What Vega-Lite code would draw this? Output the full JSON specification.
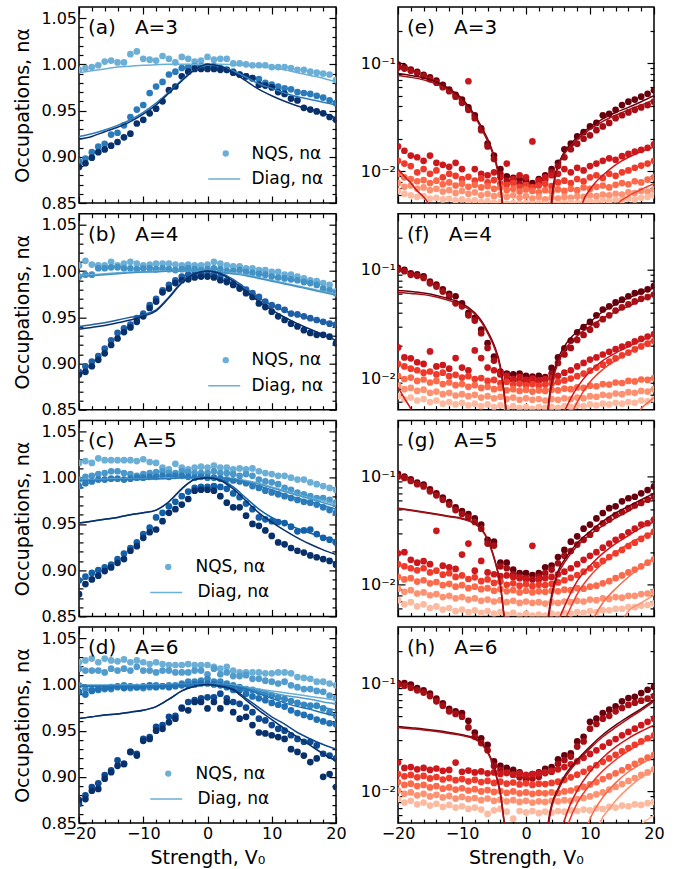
{
"$schema": "https://vega.github.io/schema/vega-lite/v6.json",
"background": "white",
"padding": {"left": 13, "top": 5, "right": 5, "bottom": 5},
"columns": 2,
"spacing": {"row": 10.7, "column": 62},
"bounds": "flush",
"resolve": {"scale": {"color": "independent", "fill": "independent", "stroke": "independent"}, "legend": {"fill": "independent", "stroke": "independent"}},
"config": {
  "view": {"stroke": "black", "strokeWidth": 1.5},
  "axis": {"grid": false, "domain": false, "labelFont": "DejaVu Sans", "labelFontSize": 16, "labelColor": "black", "tickColor": "black", "tickWidth": 1.2, "titleFont": "DejaVu Sans", "titleFontSize": 19, "titleFontWeight": "normal", "titleColor": "black", "labelOverlap": false, "labelFlush": false, "labelBound": false, "labelPadding": 9.5, "titlePadding": 8},
  "legend": {"title": null, "orient": "none", "padding": 0, "labelFontSize": 17, "labelFont": "DejaVu Sans", "labelColor": "black"},
  "text": {"font": "DejaVu Sans"}
},
"concat": [
 {"width": 257, "height": 196, "layer": [
  {"data": {"values": "s,x,y\n1,-20,.994\n1,-19,.996\n1,-18,.997\n1,-17,.999\n1,-16,1.003\n1,-15,1.004\n1,-14,1.002\n1,-13,1.002\n1,-12,1.011\n1,-11,1.014\n1,-10,1.006\n1,-9,1.005\n1,-8,1.004\n1,-7,1.009\n1,-6,1.006\n1,-5,1.002\n1,-4,1.008\n1,-3,1.006\n1,-2,1.003\n1,-1,1.004\n1,0,1.008\n1,1,1.005\n1,2,1.006\n1,3,1.006\n1,4,1.001\n1,5,1.001\n1,6,1\n1,7,.999\n1,8,.999\n1,9,.999\n1,10,.997\n1,11,.997\n1,12,.997\n1,13,.996\n1,14,.994\n1,15,.994\n1,16,.992\n1,17,.991\n1,18,.99\n1,19,.989\n1,20,.983\n2,-20,.895\n2,-19,.898\n2,-18,.905\n2,-17,.911\n2,-16,.914\n2,-15,.924\n2,-14,.926\n2,-13,.934\n2,-12,.943\n2,-11,.951\n2,-10,.956\n2,-9,.969\n2,-8,.976\n2,-7,.981\n2,-6,.989\n2,-5,.992\n2,-4,.996\n2,-3,.997\n2,-2,.998\n2,-1,.998\n2,0,.998\n2,1,.998\n2,2,.996\n2,3,.994\n2,4,.992\n2,5,.989\n2,6,.987\n2,7,.985\n2,8,.984\n2,9,.98\n2,10,.978\n2,11,.976\n2,12,.974\n2,13,.973\n2,14,.97\n2,15,.969\n2,16,.968\n2,17,.966\n2,18,.964\n2,19,.961\n2,20,.958\n3,-20,.889\n3,-19,.893\n3,-18,.899\n3,-17,.905\n3,-16,.908\n3,-15,.912\n3,-14,.916\n3,-13,.921\n3,-12,.925\n3,-11,.936\n3,-10,.94\n3,-9,.947\n3,-8,.952\n3,-7,.96\n3,-6,.972\n3,-5,.976\n3,-4,.987\n3,-3,.992\n3,-2,.995\n3,-1,.995\n3,0,.995\n3,1,.995\n3,2,.994\n3,3,.994\n3,4,.991\n3,5,.989\n3,6,.987\n3,7,.985\n3,8,.978\n3,9,.977\n3,10,.975\n3,11,.97\n3,12,.968\n3,13,.963\n3,14,.961\n3,15,.953\n3,16,.951\n3,17,.949\n3,18,.947\n3,19,.943\n3,20,.94", "format": {"type": "csv", "parse": {"s": "string", "x": "number", "y": "number"}}},
   "mark": {"type": "circle", "size": 45, "opacity": 1, "clip": true},
   "encoding": {
    "x": {"field": "x", "type": "quantitative", "scale": {"domain": [-20, 20], "nice": false, "zero": false}, "axis": {"orient": "bottom", "values": [-20,-18,-16,-14,-12,-10,-8,-6,-4,-2,0,2,4,6,8,10,12,14,16,18,20], "labels": false, "tickSize": {"condition": {"test": "datum.value % 10 === 0", "value": -7}, "value": -4}, "title": null}},
    "y": {"field": "y", "type": "quantitative", "scale": {"domain": [0.85, 1.062], "nice": false, "zero": false}, "axis": {"orient": "left", "values": [0.85,0.86,0.87,0.88,0.89,0.9,0.91,0.92,0.93,0.94,0.95,0.96,0.97,0.98,0.99,1,1.01,1.02,1.03,1.04,1.05], "format": ".2f", "labelExpr": "abs(datum.value*20-round(datum.value*20))<0.001 ? datum.label : ''", "tickSize": {"condition": {"test": "abs(datum.value*20-round(datum.value*20))<0.001", "value": -7}, "value": -4}, "title": "Occupations, nα"}},
    "color": {"field": "s", "type": "nominal", "scale": {"domain": ["1","2","3"], "range": ["#6baed6","#2b7bba","#08306b"]}, "legend": null}}},
  {"data": {"values": "s,x,y\n1,-20,.991\n1,-18,.993\n1,-16,.995\n1,-14,.997\n1,-12,.998\n1,-10,.999\n1,-8,.9995\n1,-6,1\n1,-4,1\n1,-2,1\n1,0,1\n1,2,1\n1,4,.9995\n1,6,.999\n1,8,.998\n1,10,.996\n1,12,.994\n1,14,.991\n1,16,.988\n1,18,.985\n1,20,.981\n2,-20,.922\n2,-18,.925\n2,-16,.929\n2,-14,.934\n2,-12,.94\n2,-10,.948\n2,-8,.958\n2,-6,.97\n2,-4,.983\n2,-2,.994\n2,0,.999\n2,2,.998\n2,4,.993\n2,6,.986\n2,8,.979\n2,10,.974\n2,12,.969\n2,14,.965\n2,16,.962\n2,18,.959\n2,20,.956\n3,-20,.919\n3,-18,.922\n3,-16,.927\n3,-14,.932\n3,-12,.938\n3,-10,.946\n3,-8,.956\n3,-6,.969\n3,-4,.982\n3,-2,.994\n3,0,1\n3,2,.998\n3,4,.991\n3,6,.982\n3,8,.973\n3,10,.966\n3,12,.96\n3,14,.955\n3,16,.951\n3,18,.947\n3,20,.942", "format": {"type": "csv", "parse": {"s": "string", "x": "number", "y": "number"}}},
   "mark": {"type": "line", "strokeWidth": 1.5, "interpolate": "monotone", "clip": true},
   "encoding": {
    "x": {"field": "x", "type": "quantitative", "axis": {"orient": "top", "values": [-20,-18,-16,-14,-12,-10,-8,-6,-4,-2,0,2,4,6,8,10,12,14,16,18,20], "labels": false, "tickSize": {"condition": {"test": "datum.value % 10 === 0", "value": -7}, "value": -4}, "title": null}},
    "y": {"field": "y", "type": "quantitative", "axis": {"orient": "right", "values": [0.85,0.86,0.87,0.88,0.89,0.9,0.91,0.92,0.93,0.94,0.95,0.96,0.97,0.98,0.99,1,1.01,1.02,1.03,1.04,1.05], "labels": false, "tickSize": {"condition": {"test": "abs(datum.value*20-round(datum.value*20))<0.001", "value": -7}, "value": -4}, "title": null}},
    "color": {"field": "s", "type": "nominal", "legend": null}}},
  {"data": {"values": [{"t": "(a)\u00a0\u00a0\u00a0A=3"}]}, "mark": {"type": "text", "align": "left", "baseline": "alphabetic", "dx": 9, "dy": 27, "fontSize": 20, "color": "black"},
   "encoding": {"x": {"datum": -20, "type": "quantitative", "axis": null}, "y": {"datum": 1.062, "type": "quantitative", "axis": null}, "text": {"field": "t"}}},
  {"data": {"values": [{"lab": "NQS, nα"}]}, "mark": {"type": "point", "filled": true, "opacity": 0, "size": 40},
   "encoding": {"fill": {"field": "lab", "type": "nominal", "scale": {"range": ["#6baed6"]}, "legend": {"legendX": 138.25, "legendY": 138, "symbolSize": 40, "symbolOpacity": 1, "symbolStrokeWidth": 0, "labelOffset": 17.25}}}},
  {"data": {"values": [{"lab": "Diag, nα"}]}, "mark": {"type": "line", "opacity": 0},
   "encoding": {"stroke": {"field": "lab", "type": "nominal", "scale": {"range": ["#6baed6"]}, "legend": {"legendX": 128.25, "legendY": 155, "symbolSize": 1024, "symbolStrokeWidth": 1.5, "symbolOpacity": 1, "labelOffset": 10.25}}}}
 ], "resolve": {"axis": {"x": "independent", "y": "independent"}}},
 {"width": 256, "height": 196, "layer": [
  {"data": {"values": "s,x,y\n1,-20,.097\n1,-19,.092\n1,-18,.087\n1,-17,.083\n1,-16,.078\n1,-15,.074\n1,-14,.069\n1,-13,.063\n1,-12,.057\n1,-11,.051\n1,-10,.046\n1,-9,.039\n1,-8,.033\n1,-7,.025\n1,-6,.018\n1,-5,.014\n1,-4,.0105\n1,-3,.009\n1,-2,.0087\n1,-1,.0085\n1,0,.0082\n1,1,.0078\n1,2,.0085\n1,3,.0092\n1,4,.0105\n1,5,.012\n1,6,.016\n1,7,.018\n1,8,.021\n1,9,.023\n1,10,.026\n1,11,.028\n1,12,.033\n1,13,.034\n1,14,.037\n1,15,.041\n1,16,.044\n1,17,.046\n1,18,.049\n1,19,.052\n1,20,.056\n2,-20,.091\n2,-19,.089\n2,-18,.085\n2,-17,.081\n2,-16,.076\n2,-15,.071\n2,-14,.066\n2,-13,.06\n2,-12,.055\n2,-11,.049\n2,-10,.043\n2,-9,.037\n2,-8,.031\n2,-7,.024\n2,-6,.017\n2,-5,.013\n2,-4,.0095\n2,-3,.0082\n2,-2,.008\n2,-1,.0077\n2,0,.0074\n2,1,.0072\n2,2,.0078\n2,3,.0084\n2,4,.0098\n2,5,.0112\n2,6,.0135\n2,7,.016\n2,8,.018\n2,9,.02\n2,10,.0215\n2,11,.024\n2,12,.026\n2,13,.028\n2,14,.031\n2,15,.033\n2,16,.035\n2,17,.037\n2,18,.039\n2,19,.041\n2,20,.044\n3,-20,.017\n3,-19,.0155\n3,-18,.014\n3,-17,.0135\n3,-16,.0125\n3,-15,.014\n3,-14,.012\n3,-13,.0115\n3,-12,.011\n3,-11,.012\n3,-10,.0105\n3,-9,.068\n3,-8,.0105\n3,-7,.0095\n3,-6,.0092\n3,-5,.0098\n3,-4,.0088\n3,-3,.0118\n3,-2,.0085\n3,-1,.0092\n3,0,.0088\n3,1,.0189\n3,2,.0082\n3,3,.0088\n3,4,.0092\n3,5,.0095\n3,6,.0105\n3,7,.0098\n3,8,.0108\n3,9,.0102\n3,10,.0112\n3,11,.0118\n3,12,.0125\n3,13,.0132\n3,14,.0128\n3,15,.0138\n3,16,.0145\n3,17,.0152\n3,18,.0158\n3,19,.0165\n3,20,.0178\n4,-20,.0125\n4,-19,.0118\n4,-18,.0112\n4,-17,.0098\n4,-16,.0105\n4,-15,.0095\n4,-14,.0102\n4,-13,.0088\n4,-12,.0095\n4,-11,.0091\n4,-10,.0085\n4,-9,.0089\n4,-8,.0082\n4,-7,.0086\n4,-6,.0079\n4,-5,.0083\n4,-4,.0077\n4,-3,.0075\n4,-2,.0078\n4,-1,.0072\n4,0,.0075\n4,1,.0071\n4,2,.0074\n4,3,.0077\n4,4,.0073\n4,5,.0079\n4,6,.0082\n4,7,.0078\n4,8,.0085\n4,9,.0081\n4,10,.0088\n4,11,.0092\n4,12,.0087\n4,13,.0095\n4,14,.0091\n4,15,.0098\n4,16,.0102\n4,17,.0108\n4,18,.0113\n4,19,.0118\n4,20,.0125\n5,-20,.0095\n5,-19,.0088\n5,-18,.0085\n5,-17,.0081\n5,-16,.0083\n5,-15,.0078\n5,-14,.0082\n5,-13,.0076\n5,-12,.0079\n5,-11,.0074\n5,-10,.0077\n5,-9,.0072\n5,-8,.0075\n5,-7,.0071\n5,-6,.0073\n5,-5,.0069\n5,-4,.0071\n5,-3,.0067\n5,-2,.0069\n5,-1,.0065\n5,0,.0068\n5,1,.0066\n5,2,.0064\n5,3,.0067\n5,4,.0065\n5,5,.0068\n5,6,.0066\n5,7,.0069\n5,8,.0067\n5,9,.0071\n5,10,.0069\n5,11,.0072\n5,12,.0074\n5,13,.0071\n5,14,.0075\n5,15,.0078\n5,16,.0076\n5,17,.0081\n5,18,.0079\n5,19,.0084\n5,20,.0088\n6,-20,.0078\n6,-19,.0072\n6,-18,.0074\n6,-17,.0069\n6,-16,.0071\n6,-15,.0067\n6,-14,.0069\n6,-13,.0065\n6,-12,.0067\n6,-11,.0063\n6,-10,.0066\n6,-9,.0062\n6,-8,.0064\n6,-7,.006\n6,-6,.0062\n6,-5,.0059\n6,-4,.0061\n6,-3,.0058\n6,-2,.006\n6,-1,.0057\n6,0,.0059\n6,1,.0056\n6,2,.0058\n6,3,.0055\n6,4,.0057\n6,5,.0056\n6,6,.0058\n6,7,.0057\n6,8,.0059\n6,9,.0058\n6,10,.006\n6,11,.0059\n6,12,.0061\n6,13,.006\n6,14,.0062\n6,15,.0061\n6,16,.0064\n6,17,.0063\n6,18,.0066\n6,19,.0065\n6,20,.0068\n7,-20,.0066\n7,-19,.0062\n7,-18,.006\n7,-17,.0058\n7,-16,.0059\n7,-15,.0056\n7,-14,.0057\n7,-13,.0055\n7,-12,.0056\n7,-11,.0054\n7,-10,.0055\n7,-9,.0053\n7,-8,.0054\n7,-7,.0052\n7,-6,.0053\n7,-5,.0051\n7,-4,.0052\n7,-3,.005\n7,-2,.0051\n7,-1,.005\n7,0,.0051\n7,1,.005\n7,2,.0051\n7,3,.005\n7,4,.0051\n7,5,.005\n7,6,.0051\n7,7,.0052\n7,8,.0051\n7,9,.0052\n7,10,.0053\n7,11,.0052\n7,12,.0054\n7,13,.0053\n7,14,.0055\n7,15,.0054\n7,16,.0056\n7,17,.0055\n7,18,.0057\n7,19,.0058\n7,20,.006", "format": {"type": "csv", "parse": {"s": "string", "x": "number", "y": "number"}}},
   "mark": {"type": "circle", "size": 45, "opacity": 1, "clip": true},
   "encoding": {
    "x": {"field": "x", "type": "quantitative", "scale": {"domain": [-20, 20], "nice": false, "zero": false}, "axis": {"orient": "bottom", "values": [-20,-18,-16,-14,-12,-10,-8,-6,-4,-2,0,2,4,6,8,10,12,14,16,18,20], "labels": false, "tickSize": {"condition": {"test": "datum.value % 10 === 0", "value": -7}, "value": -4}, "title": null}},
    "y": {"field": "y", "type": "quantitative", "scale": {"type": "log", "domain": [0.0051, 0.33], "nice": false}, "axis": {"orient": "left", "values": [0.006,0.007,0.008,0.009,0.01,0.02,0.03,0.04,0.05,0.06,0.07,0.08,0.09,0.1,0.2], "labelExpr": "datum.value == 0.1 ? '10⁻¹' : datum.value == 0.01 ? '10⁻²' : ''", "tickSize": {"condition": {"test": "datum.value == 0.1 || datum.value == 0.01", "value": -7}, "value": -4}, "title": null}},
    "color": {"field": "s", "type": "nominal", "scale": {"domain": ["1","2","3","4","5","6","7"], "range": ["#67000d","#a50f15","#cb181d","#ef3b2c","#fb6a4a","#fc9272","#fcbba1"]}, "legend": null}}},
  {"data": {"values": "s,x,y\n1,-20,.08\n1,-18,.077\n1,-16,.073\n1,-14,.067\n1,-12,.058\n1,-10,.047\n1,-8,.033\n1,-7,.026\n1,-6,.02\n1,-5,.014\n1,-4.5,.011\n1,-4,.0075\n1,-3.7,.0052\n1,-3.5,.004\n1,0,.0005\n1,3.8,.004\n1,4,.0055\n1,4.5,.009\n1,5,.0114\n1,6,.0151\n1,8,.0207\n1,10,.0257\n1,12,.0306\n1,14,.035\n1,16,.039\n1,18,.044\n1,20,.05\n2,-20,.077\n2,-18,.074\n2,-16,.07\n2,-14,.064\n2,-12,.056\n2,-10,.045\n2,-8,.032\n2,-7,.025\n2,-6,.019\n2,-5,.0135\n2,-4.5,.0105\n2,-4,.0072\n2,-3.7,.005\n2,-3.5,.0038\n2,0,.0005\n2,3.9,.004\n2,4.1,.0055\n2,4.6,.009\n2,5,.011\n2,6,.0145\n2,8,.0198\n2,10,.0245\n2,12,.029\n2,14,.033\n2,16,.037\n2,18,.041\n2,20,.046\n3,-20,.0105\n3,-19,.009\n3,-18,.0078\n3,-17,.0066\n3,-16,.0058\n3,-15.2,.005\n3,-14.5,.004\n3,0,.0005\n3,8.5,.004\n3,8.8,.005\n3,10,.0068\n3,12,.0092\n3,14,.0115\n3,16,.0135\n3,18,.0152\n3,20,.0168\n4,14,.0045\n4,14.4,.005\n4,16,.0059\n4,18,.0068\n4,20,.0077", "format": {"type": "csv", "parse": {"s": "string", "x": "number", "y": "number"}}},
   "mark": {"type": "line", "strokeWidth": 1.5, "interpolate": "monotone", "clip": true},
   "encoding": {
    "x": {"field": "x", "type": "quantitative", "axis": {"orient": "top", "values": [-20,-18,-16,-14,-12,-10,-8,-6,-4,-2,0,2,4,6,8,10,12,14,16,18,20], "labels": false, "tickSize": {"condition": {"test": "datum.value % 10 === 0", "value": -7}, "value": -4}, "title": null}},
    "y": {"field": "y", "type": "quantitative", "axis": {"orient": "right", "values": [0.006,0.007,0.008,0.009,0.01,0.02,0.03,0.04,0.05,0.06,0.07,0.08,0.09,0.1,0.2], "labels": false, "tickSize": {"condition": {"test": "datum.value == 0.1 || datum.value == 0.01", "value": -7}, "value": -4}, "title": null}},
    "color": {"field": "s", "type": "nominal", "legend": null}}},
  {"data": {"values": [{"t": "(e)\u00a0\u00a0\u00a0A=3"}]}, "mark": {"type": "text", "align": "left", "baseline": "alphabetic", "dx": 9, "dy": 27, "fontSize": 20, "color": "black"},
   "encoding": {"x": {"datum": -20, "type": "quantitative", "axis": null}, "y": {"datum": 0.33, "type": "quantitative", "axis": null}, "text": {"field": "t"}}}
 ], "resolve": {"axis": {"x": "independent", "y": "independent"}}},
 {"width": 257, "height": 196, "layer": [
  {"data": {"values": "s,x,y\n1,-20,1.006\n1,-19,1.011\n1,-18,1.007\n1,-17,1.006\n1,-16,1.006\n1,-15,1.01\n1,-14,1.006\n1,-13,1.008\n1,-12,1.01\n1,-11,1.008\n1,-10,1.006\n1,-9,1.007\n1,-8,1.008\n1,-7,1.008\n1,-6,1.008\n1,-5,1.007\n1,-4,1.006\n1,-3,1.007\n1,-2,1.006\n1,-1,1.006\n1,0,1.007\n1,1,1.01\n1,2,1.008\n1,3,1.006\n1,4,1.005\n1,5,1.005\n1,6,1.003\n1,7,1.003\n1,8,1.001\n1,9,1.001\n1,10,.999\n1,11,.999\n1,12,.996\n1,13,.996\n1,14,.994\n1,15,.992\n1,16,.99\n1,17,.989\n1,18,.987\n1,19,.985\n1,20,.978\n2,-20,.994\n2,-19,.996\n2,-18,.996\n2,-17,1.003\n2,-16,1.003\n2,-15,1.004\n2,-14,1.004\n2,-13,1.003\n2,-12,1.003\n2,-11,1.002\n2,-10,1.003\n2,-9,1.003\n2,-8,1.002\n2,-7,1.003\n2,-6,1.002\n2,-5,1.001\n2,-4,1.002\n2,-3,1.003\n2,-2,1.002\n2,-1,1.001\n2,0,1.002\n2,1,1.003\n2,2,1.002\n2,3,1\n2,4,1\n2,5,1.001\n2,6,.999\n2,7,.998\n2,8,.997\n2,9,.996\n2,10,.994\n2,11,.993\n2,12,.992\n2,13,.991\n2,14,.99\n2,15,.988\n2,16,.987\n2,17,.985\n2,18,.981\n2,19,.979\n2,20,.976\n3,-20,.891\n3,-19,.897\n3,-18,.902\n3,-17,.908\n3,-16,.916\n3,-15,.925\n3,-14,.933\n3,-13,.938\n3,-12,.942\n3,-11,.949\n3,-10,.954\n3,-9,.963\n3,-8,.97\n3,-7,.979\n3,-6,.985\n3,-5,.99\n3,-4,.994\n3,-3,.996\n3,-2,.997\n3,-1,.997\n3,0,.997\n3,1,.996\n3,2,.994\n3,3,.99\n3,4,.987\n3,5,.983\n3,6,.98\n3,7,.976\n3,8,.972\n3,9,.967\n3,10,.963\n3,11,.961\n3,12,.958\n3,13,.954\n3,14,.953\n3,15,.951\n3,16,.949\n3,17,.947\n3,18,.945\n3,19,.943\n3,20,.942\n4,-20,.888\n4,-19,.891\n4,-18,.897\n4,-17,.904\n4,-16,.911\n4,-15,.92\n4,-14,.927\n4,-13,.934\n4,-12,.939\n4,-11,.945\n4,-10,.951\n4,-9,.96\n4,-8,.967\n4,-7,.977\n4,-6,.981\n4,-5,.987\n4,-4,.99\n4,-3,.991\n4,-2,.993\n4,-1,.994\n4,0,.994\n4,1,.993\n4,2,.99\n4,3,.988\n4,4,.985\n4,5,.981\n4,6,.976\n4,7,.972\n4,8,.965\n4,9,.961\n4,10,.956\n4,11,.951\n4,12,.947\n4,13,.943\n4,14,.94\n4,15,.936\n4,16,.933\n4,17,.931\n4,18,.931\n4,19,.929\n4,20,.922", "format": {"type": "csv", "parse": {"s": "string", "x": "number", "y": "number"}}},
   "mark": {"type": "circle", "size": 45, "opacity": 1, "clip": true},
   "encoding": {
    "x": {"field": "x", "type": "quantitative", "scale": {"domain": [-20, 20], "nice": false, "zero": false}, "axis": {"orient": "bottom", "values": [-20,-18,-16,-14,-12,-10,-8,-6,-4,-2,0,2,4,6,8,10,12,14,16,18,20], "labels": false, "tickSize": {"condition": {"test": "datum.value % 10 === 0", "value": -7}, "value": -4}, "title": null}},
    "y": {"field": "y", "type": "quantitative", "scale": {"domain": [0.85, 1.062], "nice": false, "zero": false}, "axis": {"orient": "left", "values": [0.85,0.86,0.87,0.88,0.89,0.9,0.91,0.92,0.93,0.94,0.95,0.96,0.97,0.98,0.99,1,1.01,1.02,1.03,1.04,1.05], "format": ".2f", "labelExpr": "abs(datum.value*20-round(datum.value*20))<0.001 ? datum.label : ''", "tickSize": {"condition": {"test": "abs(datum.value*20-round(datum.value*20))<0.001", "value": -7}, "value": -4}, "title": "Occupations, nα"}},
    "color": {"field": "s", "type": "nominal", "scale": {"domain": ["1","2","3","4"], "range": ["#6baed6","#4292c6","#1f5fa6","#08306b"]}, "legend": null}}},
  {"data": {"values": "s,x,y\n1,-20,.995\n1,-18,.996\n1,-16,.997\n1,-14,.998\n1,-12,.999\n1,-10,.999\n1,-8,1\n1,-6,1\n1,-4,1\n1,-2,1\n1,0,1\n1,2,.999\n1,4,.998\n1,6,.996\n1,8,.993\n1,10,.99\n1,12,.987\n1,14,.984\n1,16,.981\n1,18,.978\n1,20,.975\n2,-20,.994\n2,-18,.995\n2,-16,.996\n2,-14,.997\n2,-12,.998\n2,-10,.999\n2,-8,.999\n2,-6,1\n2,-4,1\n2,-2,1\n2,0,1\n2,2,.999\n2,4,.997\n2,6,.995\n2,8,.992\n2,10,.989\n2,12,.986\n2,14,.983\n2,16,.98\n2,18,.977\n2,20,.974\n3,-20,.94\n3,-18,.942\n3,-16,.944\n3,-14,.947\n3,-12,.95\n3,-10,.953\n3,-8,.958\n3,-6,.972\n3,-4,.988\n3,-2,.997\n3,0,1\n3,2,.998\n3,4,.991\n3,6,.981\n3,8,.971\n3,10,.963\n3,12,.957\n3,14,.952\n3,16,.948\n3,18,.945\n3,20,.943\n4,-20,.937\n4,-18,.939\n4,-16,.941\n4,-14,.944\n4,-12,.947\n4,-10,.951\n4,-8,.957\n4,-6,.971\n4,-4,.987\n4,-2,.997\n4,0,1\n4,2,.997\n4,4,.989\n4,6,.978\n4,8,.967\n4,10,.958\n4,12,.95\n4,14,.943\n4,16,.937\n4,18,.931\n4,20,.925", "format": {"type": "csv", "parse": {"s": "string", "x": "number", "y": "number"}}},
   "mark": {"type": "line", "strokeWidth": 1.5, "interpolate": "monotone", "clip": true},
   "encoding": {
    "x": {"field": "x", "type": "quantitative", "axis": {"orient": "top", "values": [-20,-18,-16,-14,-12,-10,-8,-6,-4,-2,0,2,4,6,8,10,12,14,16,18,20], "labels": false, "tickSize": {"condition": {"test": "datum.value % 10 === 0", "value": -7}, "value": -4}, "title": null}},
    "y": {"field": "y", "type": "quantitative", "axis": {"orient": "right", "values": [0.85,0.86,0.87,0.88,0.89,0.9,0.91,0.92,0.93,0.94,0.95,0.96,0.97,0.98,0.99,1,1.01,1.02,1.03,1.04,1.05], "labels": false, "tickSize": {"condition": {"test": "abs(datum.value*20-round(datum.value*20))<0.001", "value": -7}, "value": -4}, "title": null}},
    "color": {"field": "s", "type": "nominal", "legend": null}}},
  {"data": {"values": [{"t": "(b)\u00a0\u00a0\u00a0A=4"}]}, "mark": {"type": "text", "align": "left", "baseline": "alphabetic", "dx": 9, "dy": 27, "fontSize": 20, "color": "black"},
   "encoding": {"x": {"datum": -20, "type": "quantitative", "axis": null}, "y": {"datum": 1.062, "type": "quantitative", "axis": null}, "text": {"field": "t"}}},
  {"data": {"values": [{"lab": "NQS, nα"}]}, "mark": {"type": "point", "filled": true, "opacity": 0, "size": 40},
   "encoding": {"fill": {"field": "lab", "type": "nominal", "scale": {"range": ["#6baed6"]}, "legend": {"legendX": 138.25, "legendY": 138, "symbolSize": 40, "symbolOpacity": 1, "symbolStrokeWidth": 0, "labelOffset": 17.25}}}},
  {"data": {"values": [{"lab": "Diag, nα"}]}, "mark": {"type": "line", "opacity": 0},
   "encoding": {"stroke": {"field": "lab", "type": "nominal", "scale": {"range": ["#6baed6"]}, "legend": {"legendX": 128.25, "legendY": 155, "symbolSize": 1024, "symbolStrokeWidth": 1.5, "symbolOpacity": 1, "labelOffset": 10.25}}}}
 ], "resolve": {"axis": {"x": "independent", "y": "independent"}}},
 {"width": 256, "height": 196, "layer": [
  {"data": {"values": "s,x,y\n1,-20,.104\n1,-19,.1\n1,-18,.093\n1,-17,.091\n1,-16,.087\n1,-15,.078\n1,-14,.073\n1,-13,.066\n1,-12,.06\n1,-11,.057\n1,-10,.049\n1,-9,.04\n1,-8,.036\n1,-7,.028\n1,-6,.021\n1,-5,.0158\n1,-4,.0115\n1,-3,.011\n1,-2,.0108\n1,-1,.011\n1,0,.0105\n1,1,.0103\n1,2,.0105\n1,3,.0102\n1,4,.0124\n1,5,.0155\n1,6,.0188\n1,7,.0222\n1,8,.0265\n1,9,.0295\n1,10,.033\n1,11,.038\n1,12,.043\n1,13,.046\n1,14,.05\n1,15,.053\n1,16,.057\n1,17,.061\n1,18,.063\n1,19,.066\n1,20,.071\n2,-20,.1\n2,-19,.097\n2,-18,.09\n2,-17,.088\n2,-16,.084\n2,-15,.075\n2,-14,.07\n2,-13,.063\n2,-12,.057\n2,-11,.049\n2,-10,.046\n2,-9,.038\n2,-8,.034\n2,-7,.026\n2,-6,.019\n2,-5,.0145\n2,-4,.0108\n2,-3,.0098\n2,-2,.0096\n2,-1,.0095\n2,0,.0093\n2,1,.0092\n2,2,.0095\n2,3,.0097\n2,4,.011\n2,5,.0138\n2,6,.0165\n2,7,.019\n2,8,.0225\n2,9,.025\n2,10,.028\n2,11,.031\n2,12,.035\n2,13,.038\n2,14,.042\n2,15,.045\n2,16,.048\n2,17,.051\n2,18,.054\n2,19,.056\n2,20,.059\n3,-20,.0192\n3,-19,.0155\n3,-18,.0152\n3,-17,.014\n3,-16,.0135\n3,-15,.0176\n3,-14,.0128\n3,-13,.0132\n3,-12,.0122\n3,-11,.0153\n3,-10,.0125\n3,-9,.0118\n3,-8,.018\n3,-7,.0153\n3,-6,.0125\n3,-5,.0118\n3,-4,.0112\n3,-3,.0105\n3,-2,.0098\n3,-1,.0102\n3,0,.0096\n3,1,.0099\n3,2,.0095\n3,3,.0098\n3,4,.01\n3,5,.0105\n3,6,.0112\n3,7,.0118\n3,8,.0128\n3,9,.0138\n3,10,.0148\n3,11,.0155\n3,12,.0165\n3,13,.0175\n3,14,.0185\n3,15,.0195\n3,16,.0205\n3,17,.0218\n3,18,.023\n3,19,.0242\n3,20,.0255\n4,-20,.0135\n4,-19,.0128\n4,-18,.0122\n4,-17,.0118\n4,-16,.0112\n4,-15,.0115\n4,-14,.0108\n4,-13,.0112\n4,-12,.0104\n4,-11,.0107\n4,-10,.0101\n4,-9,.0104\n4,-8,.0098\n4,-7,.01\n4,-6,.0094\n4,-5,.0096\n4,-4,.009\n4,-3,.0092\n4,-2,.0087\n4,-1,.0089\n4,0,.0086\n4,1,.0088\n4,2,.0085\n4,3,.0087\n4,4,.0089\n4,5,.0092\n4,6,.0095\n4,7,.0099\n4,8,.0104\n4,9,.011\n4,10,.0117\n4,11,.0125\n4,12,.0133\n4,13,.0142\n4,14,.0152\n4,15,.0162\n4,16,.0172\n4,17,.0184\n4,18,.0196\n4,19,.0208\n4,20,.022\n5,-20,.0105\n5,-19,.0098\n5,-18,.0101\n5,-17,.0094\n5,-16,.0097\n5,-15,.0091\n5,-14,.0094\n5,-13,.0088\n5,-12,.0091\n5,-11,.0086\n5,-10,.0088\n5,-9,.0083\n5,-8,.0086\n5,-7,.0081\n5,-6,.0083\n5,-5,.0079\n5,-4,.0081\n5,-3,.0077\n5,-2,.0079\n5,-1,.0076\n5,0,.0078\n5,1,.0075\n5,2,.0077\n5,3,.0076\n5,4,.0078\n5,5,.0077\n5,6,.008\n5,7,.0079\n5,8,.0082\n5,9,.0081\n5,10,.0085\n5,11,.0084\n5,12,.0088\n5,13,.0087\n5,14,.0091\n5,15,.009\n5,16,.0094\n5,17,.0093\n5,18,.0097\n5,19,.0096\n5,20,.01\n6,-20,.0085\n6,-19,.0079\n6,-18,.0081\n6,-17,.0076\n6,-16,.0078\n6,-15,.0073\n6,-14,.0075\n6,-13,.0071\n6,-12,.0073\n6,-11,.0069\n6,-10,.0071\n6,-9,.0068\n6,-8,.007\n6,-7,.0066\n6,-6,.0068\n6,-5,.0065\n6,-4,.0067\n6,-3,.0064\n6,-2,.0066\n6,-1,.0063\n6,0,.0065\n6,1,.0063\n6,2,.0064\n6,3,.0062\n6,4,.0064\n6,5,.0063\n6,6,.0065\n6,7,.0064\n6,8,.0066\n6,9,.0065\n6,10,.0068\n6,11,.0067\n6,12,.007\n6,13,.0069\n6,14,.0072\n6,15,.0071\n6,16,.0074\n6,17,.0073\n6,18,.0076\n6,19,.0075\n6,20,.0079\n7,-20,.0068\n7,-19,.0064\n7,-18,.0066\n7,-17,.0062\n7,-16,.0064\n7,-15,.006\n7,-14,.0062\n7,-13,.0058\n7,-12,.006\n7,-11,.0057\n7,-10,.0059\n7,-9,.0056\n7,-8,.0058\n7,-7,.0055\n7,-6,.0057\n7,-5,.0054\n7,-4,.0056\n7,-3,.0053\n7,-2,.0055\n7,-1,.0053\n7,0,.0054\n7,1,.0052\n7,2,.0054\n7,3,.0053\n7,4,.0054\n7,5,.0053\n7,6,.0055\n7,7,.0054\n7,8,.0056\n7,9,.0055\n7,10,.0057\n7,11,.0056\n7,12,.0058\n7,13,.0057\n7,14,.0059\n7,15,.0058\n7,16,.006\n7,17,.0059\n7,18,.0062\n7,19,.0061\n7,20,.0064", "format": {"type": "csv", "parse": {"s": "string", "x": "number", "y": "number"}}},
   "mark": {"type": "circle", "size": 45, "opacity": 1, "clip": true},
   "encoding": {
    "x": {"field": "x", "type": "quantitative", "scale": {"domain": [-20, 20], "nice": false, "zero": false}, "axis": {"orient": "bottom", "values": [-20,-18,-16,-14,-12,-10,-8,-6,-4,-2,0,2,4,6,8,10,12,14,16,18,20], "labels": false, "tickSize": {"condition": {"test": "datum.value % 10 === 0", "value": -7}, "value": -4}, "title": null}},
    "y": {"field": "y", "type": "quantitative", "scale": {"type": "log", "domain": [0.0051, 0.33], "nice": false}, "axis": {"orient": "left", "values": [0.006,0.007,0.008,0.009,0.01,0.02,0.03,0.04,0.05,0.06,0.07,0.08,0.09,0.1,0.2], "labelExpr": "datum.value == 0.1 ? '10⁻¹' : datum.value == 0.01 ? '10⁻²' : ''", "tickSize": {"condition": {"test": "datum.value == 0.1 || datum.value == 0.01", "value": -7}, "value": -4}, "title": null}},
    "color": {"field": "s", "type": "nominal", "scale": {"domain": ["1","2","3","4","5","6","7"], "range": ["#67000d","#a50f15","#cb181d","#ef3b2c","#fb6a4a","#fc9272","#fcbba1"]}, "legend": null}}},
  {"data": {"values": "s,x,y\n1,-20,.0645\n1,-18,.063\n1,-16,.061\n1,-14,.058\n1,-12,.054\n1,-10,.049\n1,-8,.04\n1,-7,.034\n1,-6,.027\n1,-5,.0203\n1,-4,.0128\n1,-3.6,.009\n1,-3.3,.0065\n1,-3,.0045\n1,0,.0005\n1,3.3,.0045\n1,3.6,.0065\n1,4,.009\n1,5,.015\n1,6,.0196\n1,8,.027\n1,10,.033\n1,12,.041\n1,14,.048\n1,16,.055\n1,18,.061\n1,20,.068\n2,-20,.062\n2,-18,.0605\n2,-16,.059\n2,-14,.056\n2,-12,.052\n2,-10,.047\n2,-8,.039\n2,-7,.033\n2,-6,.026\n2,-5,.0195\n2,-4,.0122\n2,-3.6,.0085\n2,-3.3,.006\n2,-3,.0042\n2,0,.0005\n2,3.4,.0045\n2,3.7,.0065\n2,4.1,.009\n2,5,.0138\n2,6,.018\n2,8,.0245\n2,10,.03\n2,12,.0355\n2,14,.041\n2,16,.046\n2,18,.0525\n2,20,.059\n3,-20,.0082\n3,-19,.0065\n3,-18,.0052\n3,-17.5,.0045\n3,0,.0005\n3,5.8,.0045\n3,6.2,.0052\n3,7,.0065\n3,8,.0082\n3,10,.0115\n3,12,.0145\n3,14,.017\n3,16,.0195\n3,18,.0222\n3,20,.025\n4,7.1,.0045\n4,7.5,.0052\n4,8,.006\n4,10,.0092\n4,12,.012\n4,14,.0145\n4,16,.0172\n4,18,.02\n4,20,.0226\n5,17.5,.0046\n5,18,.0052\n5,19,.0059\n5,20,.0066", "format": {"type": "csv", "parse": {"s": "string", "x": "number", "y": "number"}}},
   "mark": {"type": "line", "strokeWidth": 1.5, "interpolate": "monotone", "clip": true},
   "encoding": {
    "x": {"field": "x", "type": "quantitative", "axis": {"orient": "top", "values": [-20,-18,-16,-14,-12,-10,-8,-6,-4,-2,0,2,4,6,8,10,12,14,16,18,20], "labels": false, "tickSize": {"condition": {"test": "datum.value % 10 === 0", "value": -7}, "value": -4}, "title": null}},
    "y": {"field": "y", "type": "quantitative", "axis": {"orient": "right", "values": [0.006,0.007,0.008,0.009,0.01,0.02,0.03,0.04,0.05,0.06,0.07,0.08,0.09,0.1,0.2], "labels": false, "tickSize": {"condition": {"test": "datum.value == 0.1 || datum.value == 0.01", "value": -7}, "value": -4}, "title": null}},
    "color": {"field": "s", "type": "nominal", "legend": null}}},
  {"data": {"values": [{"t": "(f)\u00a0\u00a0\u00a0A=4"}]}, "mark": {"type": "text", "align": "left", "baseline": "alphabetic", "dx": 9, "dy": 27, "fontSize": 20, "color": "black"},
   "encoding": {"x": {"datum": -20, "type": "quantitative", "axis": null}, "y": {"datum": 0.33, "type": "quantitative", "axis": null}, "text": {"field": "t"}}}
 ], "resolve": {"axis": {"x": "independent", "y": "independent"}}},
 {"width": 257, "height": 196, "layer": [
  {"data": {"values": "s,x,y\n1,-20,1.016\n1,-19,1.018\n1,-18,1.016\n1,-17,1.021\n1,-16,1.019\n1,-15,1.019\n1,-14,1.019\n1,-13,1.019\n1,-12,1.019\n1,-11,1.018\n1,-10,1.02\n1,-9,1.017\n1,-8,1.016\n1,-7,1.011\n1,-6,1.009\n1,-5,1.015\n1,-4,1.011\n1,-3,1.009\n1,-2,1.011\n1,-1,1.012\n1,0,1.011\n1,1,1.013\n1,2,1.011\n1,3,1.011\n1,4,1.009\n1,5,1.01\n1,6,1.009\n1,7,1.01\n1,8,1.007\n1,9,1.005\n1,10,1.004\n1,11,1.002\n1,12,1.002\n1,13,1\n1,14,.998\n1,15,.998\n1,16,.995\n1,17,.993\n1,18,.991\n1,19,.989\n1,20,.987\n2,-20,.998\n2,-19,1.001\n2,-18,1.002\n2,-17,1.004\n2,-16,1.005\n2,-15,1.007\n2,-14,1.007\n2,-13,1.005\n2,-12,1.004\n2,-11,1.002\n2,-10,1.004\n2,-9,1.005\n2,-8,1.006\n2,-7,1.007\n2,-6,1.005\n2,-5,1.005\n2,-4,1.007\n2,-3,1.006\n2,-2,1.005\n2,-1,1.005\n2,0,1.005\n2,1,1.007\n2,2,1.005\n2,3,1.005\n2,4,1.004\n2,5,1.002\n2,6,1.004\n2,7,1.002\n2,8,.998\n2,9,.996\n2,10,.995\n2,11,.993\n2,12,.989\n2,13,.987\n2,14,.984\n2,15,.982\n2,16,.98\n2,17,.978\n2,18,.978\n2,19,.976\n2,20,.973\n3,-20,.991\n3,-19,.994\n3,-18,.996\n3,-17,.998\n3,-16,.998\n3,-15,.999\n3,-14,.999\n3,-13,.998\n3,-12,.999\n3,-11,1\n3,-10,1\n3,-9,1.001\n3,-8,1.001\n3,-7,1.002\n3,-6,1.001\n3,-5,1.002\n3,-4,1.002\n3,-3,1.001\n3,-2,1\n3,-1,1.001\n3,0,1\n3,1,1\n3,2,.999\n3,3,.998\n3,4,.997\n3,5,.996\n3,6,.994\n3,7,.991\n3,8,.989\n3,9,.986\n3,10,.984\n3,11,.982\n3,12,.98\n3,13,.978\n3,14,.976\n3,15,.974\n3,16,.973\n3,17,.971\n3,18,.968\n3,19,.965\n3,20,.962\n4,-20,.889\n4,-19,.893\n4,-18,.897\n4,-17,.9\n4,-16,.903\n4,-15,.906\n4,-14,.912\n4,-13,.918\n4,-12,.924\n4,-11,.93\n4,-10,.939\n4,-9,.946\n4,-8,.957\n4,-7,.962\n4,-6,.969\n4,-5,.974\n4,-4,.98\n4,-3,.985\n4,-2,.989\n4,-1,.99\n4,0,.99\n4,1,.991\n4,2,.99\n4,3,.988\n4,4,.983\n4,5,.979\n4,6,.972\n4,7,.966\n4,8,.957\n4,9,.955\n4,10,.953\n4,11,.952\n4,12,.951\n4,13,.947\n4,14,.942\n4,15,.943\n4,16,.944\n4,17,.939\n4,18,.935\n4,19,.933\n4,20,.93\n5,-20,.874\n5,-19,.885\n5,-18,.89\n5,-17,.894\n5,-16,.899\n5,-15,.903\n5,-14,.908\n5,-13,.912\n5,-12,.921\n5,-11,.926\n5,-10,.935\n5,-9,.941\n5,-8,.944\n5,-7,.953\n5,-6,.962\n5,-5,.966\n5,-4,.971\n5,-3,.977\n5,-2,.986\n5,-1,.987\n5,0,.987\n5,1,.986\n5,2,.98\n5,3,.973\n5,4,.968\n5,5,.968\n5,6,.959\n5,7,.95\n5,8,.948\n5,9,.943\n5,10,.937\n5,11,.93\n5,12,.928\n5,13,.924\n5,14,.921\n5,15,.919\n5,16,.916\n5,17,.914\n5,18,.912\n5,19,.91\n5,20,.906", "format": {"type": "csv", "parse": {"s": "string", "x": "number", "y": "number"}}},
   "mark": {"type": "circle", "size": 45, "opacity": 1, "clip": true},
   "encoding": {
    "x": {"field": "x", "type": "quantitative", "scale": {"domain": [-20, 20], "nice": false, "zero": false}, "axis": {"orient": "bottom", "values": [-20,-18,-16,-14,-12,-10,-8,-6,-4,-2,0,2,4,6,8,10,12,14,16,18,20], "labels": false, "tickSize": {"condition": {"test": "datum.value % 10 === 0", "value": -7}, "value": -4}, "title": null}},
    "y": {"field": "y", "type": "quantitative", "scale": {"domain": [0.85, 1.062], "nice": false, "zero": false}, "axis": {"orient": "left", "values": [0.85,0.86,0.87,0.88,0.89,0.9,0.91,0.92,0.93,0.94,0.95,0.96,0.97,0.98,0.99,1,1.01,1.02,1.03,1.04,1.05], "format": ".2f", "labelExpr": "abs(datum.value*20-round(datum.value*20))<0.001 ? datum.label : ''", "tickSize": {"condition": {"test": "abs(datum.value*20-round(datum.value*20))<0.001", "value": -7}, "value": -4}, "title": "Occupations, nα"}},
    "color": {"field": "s", "type": "nominal", "scale": {"domain": ["1","2","3","4","5"], "range": ["#6baed6","#4a98c9","#2b7bba","#1361a9","#08306b"]}, "legend": null}}},
  {"data": {"values": "s,x,y\n1,-20,.998\n1,-18,.998\n1,-16,.998\n1,-14,.999\n1,-12,.999\n1,-10,.999\n1,-8,.999\n1,-6,1\n1,-4,1\n1,-2,1\n1,0,1\n1,2,1\n1,4,.999\n1,6,.997\n1,8,.994\n1,10,.99\n1,12,.986\n1,14,.982\n1,16,.978\n1,18,.975\n1,20,.971\n2,-20,.9975\n2,-18,.9975\n2,-16,.998\n2,-14,.998\n2,-12,.999\n2,-10,.999\n2,-8,.999\n2,-6,.9995\n2,-4,1\n2,-2,1\n2,0,1\n2,2,1\n2,4,.999\n2,6,.996\n2,8,.993\n2,10,.989\n2,12,.985\n2,14,.981\n2,16,.977\n2,18,.973\n2,20,.969\n3,-20,.997\n3,-18,.997\n3,-16,.997\n3,-14,.998\n3,-12,.998\n3,-10,.998\n3,-8,.999\n3,-6,.999\n3,-4,1\n3,-2,1\n3,0,1\n3,2,1\n3,4,.998\n3,6,.995\n3,8,.991\n3,10,.987\n3,12,.982\n3,14,.978\n3,16,.974\n3,18,.97\n3,20,.966\n4,-20,.951\n4,-18,.953\n4,-16,.955\n4,-14,.957\n4,-12,.96\n4,-10,.962\n4,-8,.965\n4,-6,.974\n4,-4,.988\n4,-2,.998\n4,0,1\n4,2,.998\n4,4,.99\n4,6,.978\n4,8,.966\n4,10,.957\n4,12,.951\n4,14,.945\n4,16,.94\n4,18,.936\n4,20,.932\n5,-20,.951\n5,-18,.953\n5,-16,.955\n5,-14,.957\n5,-12,.96\n5,-10,.962\n5,-8,.965\n5,-6,.974\n5,-4,.988\n5,-2,.998\n5,0,1\n5,2,.997\n5,4,.988\n5,6,.975\n5,8,.962\n5,10,.952\n5,12,.943\n5,14,.935\n5,16,.928\n5,18,.922\n5,20,.917", "format": {"type": "csv", "parse": {"s": "string", "x": "number", "y": "number"}}},
   "mark": {"type": "line", "strokeWidth": 1.5, "interpolate": "monotone", "clip": true},
   "encoding": {
    "x": {"field": "x", "type": "quantitative", "axis": {"orient": "top", "values": [-20,-18,-16,-14,-12,-10,-8,-6,-4,-2,0,2,4,6,8,10,12,14,16,18,20], "labels": false, "tickSize": {"condition": {"test": "datum.value % 10 === 0", "value": -7}, "value": -4}, "title": null}},
    "y": {"field": "y", "type": "quantitative", "axis": {"orient": "right", "values": [0.85,0.86,0.87,0.88,0.89,0.9,0.91,0.92,0.93,0.94,0.95,0.96,0.97,0.98,0.99,1,1.01,1.02,1.03,1.04,1.05], "labels": false, "tickSize": {"condition": {"test": "abs(datum.value*20-round(datum.value*20))<0.001", "value": -7}, "value": -4}, "title": null}},
    "color": {"field": "s", "type": "nominal", "legend": null}}},
  {"data": {"values": [{"t": "(c)\u00a0\u00a0\u00a0A=5"}]}, "mark": {"type": "text", "align": "left", "baseline": "alphabetic", "dx": 9, "dy": 27, "fontSize": 20, "color": "black"},
   "encoding": {"x": {"datum": -20, "type": "quantitative", "axis": null}, "y": {"datum": 1.062, "type": "quantitative", "axis": null}, "text": {"field": "t"}}},
  {"data": {"values": [{"lab": "NQS, nα"}]}, "mark": {"type": "point", "filled": true, "opacity": 0, "size": 40},
   "encoding": {"fill": {"field": "lab", "type": "nominal", "scale": {"range": ["#6baed6"]}, "legend": {"legendX": 80.75, "legendY": 138, "symbolSize": 40, "symbolOpacity": 1, "symbolStrokeWidth": 0, "labelOffset": 18.75}}}},
  {"data": {"values": [{"lab": "Diag, nα"}]}, "mark": {"type": "line", "opacity": 0},
   "encoding": {"stroke": {"field": "lab", "type": "nominal", "scale": {"range": ["#6baed6"]}, "legend": {"legendX": 70.25, "legendY": 155, "symbolSize": 1024, "symbolStrokeWidth": 1.5, "symbolOpacity": 1, "labelOffset": 14.25}}}}
 ], "resolve": {"axis": {"x": "independent", "y": "independent"}}},
 {"width": 256, "height": 196, "layer": [
  {"data": {"values": "s,x,y\n1,-20,.106\n1,-19,.1\n1,-18,.094\n1,-17,.088\n1,-16,.084\n1,-15,.076\n1,-14,.07\n1,-13,.064\n1,-12,.058\n1,-11,.052\n1,-10,.048\n1,-9,.045\n1,-8,.041\n1,-7,.036\n1,-6,.026\n1,-5,.025\n1,-4,.016\n1,-3,.016\n1,-2,.0138\n1,-1,.0128\n1,0,.0128\n1,1,.0123\n1,2,.0128\n1,3,.0145\n1,4,.015\n1,5,.018\n1,6,.021\n1,7,.025\n1,8,.028\n1,9,.033\n1,10,.036\n1,11,.041\n1,12,.046\n1,13,.051\n1,14,.053\n1,15,.059\n1,16,.063\n1,17,.065\n1,18,.07\n1,19,.075\n1,20,.081\n2,-20,.1\n2,-19,.097\n2,-18,.091\n2,-17,.085\n2,-16,.081\n2,-15,.073\n2,-14,.067\n2,-13,.061\n2,-12,.055\n2,-11,.049\n2,-10,.045\n2,-9,.042\n2,-8,.038\n2,-7,.033\n2,-6,.024\n2,-5,.023\n2,-4,.0148\n2,-3,.0142\n2,-2,.0125\n2,-1,.0118\n2,0,.0115\n2,1,.0112\n2,2,.0118\n2,3,.0128\n2,4,.0138\n2,5,.0158\n2,6,.0185\n2,7,.0205\n2,8,.0235\n2,9,.026\n2,10,.029\n2,11,.033\n2,12,.037\n2,13,.04\n2,14,.044\n2,15,.047\n2,16,.051\n2,17,.054\n2,18,.057\n2,19,.061\n2,20,.065\n3,-20,.0195\n3,-19,.02\n3,-18,.017\n3,-17,.016\n3,-16,.0165\n3,-15,.0155\n3,-14,.0315\n3,-13,.015\n3,-12,.0145\n3,-11,.014\n3,-10,.019\n3,-9,.024\n3,-8,.0135\n3,-7,.0166\n3,-6,.013\n3,-5,.0125\n3,-4,.012\n3,-3,.0122\n3,-2,.0118\n3,-1,.0115\n3,0,.0112\n3,1,.0229\n3,2,.0112\n3,3,.0115\n3,4,.0118\n3,5,.0125\n3,6,.0132\n3,7,.0142\n3,8,.0155\n3,9,.017\n3,10,.0185\n3,11,.02\n3,12,.022\n3,13,.024\n3,14,.026\n3,15,.028\n3,16,.0305\n3,17,.033\n3,18,.036\n3,19,.037\n3,20,.04\n4,-20,.0155\n4,-19,.0148\n4,-18,.0142\n4,-17,.0136\n4,-16,.0142\n4,-15,.013\n4,-14,.0135\n4,-13,.0124\n4,-12,.0128\n4,-11,.0118\n4,-10,.0122\n4,-9,.0113\n4,-8,.0117\n4,-7,.0108\n4,-6,.0112\n4,-5,.0104\n4,-4,.0107\n4,-3,.01\n4,-2,.0103\n4,-1,.0098\n4,0,.0101\n4,1,.0097\n4,2,.01\n4,3,.0099\n4,4,.0102\n4,5,.0105\n4,6,.011\n4,7,.0116\n4,8,.0123\n4,9,.0132\n4,10,.0142\n4,11,.0153\n4,12,.0166\n4,13,.018\n4,14,.0195\n4,15,.021\n4,16,.0228\n4,17,.0245\n4,18,.0265\n4,19,.0285\n4,20,.031\n5,-20,.0118\n5,-19,.0112\n5,-18,.0115\n5,-17,.0107\n5,-16,.011\n5,-15,.0103\n5,-14,.0106\n5,-13,.0099\n5,-12,.0102\n5,-11,.0096\n5,-10,.0099\n5,-9,.0093\n5,-8,.0096\n5,-7,.0091\n5,-6,.0093\n5,-5,.0088\n5,-4,.0091\n5,-3,.0087\n5,-2,.0089\n5,-1,.0085\n5,0,.0088\n5,1,.0085\n5,2,.0087\n5,3,.0086\n5,4,.0088\n5,5,.0087\n5,6,.009\n5,7,.0089\n5,8,.0093\n5,9,.0092\n5,10,.0096\n5,11,.0098\n5,12,.0103\n5,13,.0108\n5,14,.0115\n5,15,.0122\n5,16,.013\n5,17,.0138\n5,18,.0148\n5,19,.016\n5,20,.0172\n6,-20,.0092\n6,-19,.0086\n6,-18,.0089\n6,-17,.0083\n6,-16,.0085\n6,-15,.008\n6,-14,.0082\n6,-13,.0077\n6,-12,.0079\n6,-11,.0075\n6,-10,.0077\n6,-9,.0073\n6,-8,.0075\n6,-7,.0071\n6,-6,.0073\n6,-5,.007\n6,-4,.0072\n6,-3,.0069\n6,-2,.0071\n6,-1,.0068\n6,0,.007\n6,1,.0068\n6,2,.0069\n6,3,.0067\n6,4,.0069\n6,5,.0068\n6,6,.007\n6,7,.0069\n6,8,.0071\n6,9,.007\n6,10,.0073\n6,11,.0072\n6,12,.0075\n6,13,.0074\n6,14,.0077\n6,15,.0076\n6,16,.0079\n6,17,.0079\n6,18,.0082\n6,19,.0083\n6,20,.0086\n7,-20,.0072\n7,-19,.0066\n7,-18,.0069\n7,-17,.0063\n7,-16,.0066\n7,-15,.0061\n7,-14,.0063\n7,-13,.0059\n7,-12,.0061\n7,-11,.0057\n7,-10,.0059\n7,-9,.0056\n7,-8,.0058\n7,-7,.0055\n7,-6,.0057\n7,-5,.0054\n7,-4,.0056\n7,-3,.0053\n7,-2,.0055\n7,-1,.0052\n7,0,.0054\n7,1,.0052\n7,2,.0053\n7,3,.0052\n7,4,.0054\n7,5,.0053\n7,6,.0055\n7,7,.0054\n7,8,.0056\n7,9,.0055\n7,10,.0057\n7,11,.0056\n7,12,.0058\n7,13,.0058\n7,14,.006\n7,15,.006\n7,16,.0062\n7,17,.0062\n7,18,.0064\n7,19,.0065\n7,20,.0067", "format": {"type": "csv", "parse": {"s": "string", "x": "number", "y": "number"}}},
   "mark": {"type": "circle", "size": 45, "opacity": 1, "clip": true},
   "encoding": {
    "x": {"field": "x", "type": "quantitative", "scale": {"domain": [-20, 20], "nice": false, "zero": false}, "axis": {"orient": "bottom", "values": [-20,-18,-16,-14,-12,-10,-8,-6,-4,-2,0,2,4,6,8,10,12,14,16,18,20], "labels": false, "tickSize": {"condition": {"test": "datum.value % 10 === 0", "value": -7}, "value": -4}, "title": null}},
    "y": {"field": "y", "type": "quantitative", "scale": {"type": "log", "domain": [0.0051, 0.33], "nice": false}, "axis": {"orient": "left", "values": [0.006,0.007,0.008,0.009,0.01,0.02,0.03,0.04,0.05,0.06,0.07,0.08,0.09,0.1,0.2], "labelExpr": "datum.value == 0.1 ? '10⁻¹' : datum.value == 0.01 ? '10⁻²' : ''", "tickSize": {"condition": {"test": "datum.value == 0.1 || datum.value == 0.01", "value": -7}, "value": -4}, "title": null}},
    "color": {"field": "s", "type": "nominal", "scale": {"domain": ["1","2","3","4","5","6","7"], "range": ["#67000d","#a50f15","#cb181d","#ef3b2c","#fb6a4a","#fc9272","#fcbba1"]}, "legend": null}}},
  {"data": {"values": "s,x,y\n1,-20,.051\n1,-18,.049\n1,-16,.047\n1,-14,.045\n1,-12,.043\n1,-10,.041\n1,-8,.037\n1,-7,.033\n1,-6,.0265\n1,-5,.018\n1,-4.5,.014\n1,-4,.01\n1,-3.7,.0072\n1,-3.4,.005\n1,-3.2,.004\n1,0,.0005\n1,3.3,.004\n1,3.5,.0052\n1,4,.008\n1,5,.0133\n1,6,.017\n1,8,.0242\n1,10,.031\n1,12,.0385\n1,14,.046\n1,16,.053\n1,18,.061\n1,20,.07\n2,-20,.0505\n2,-18,.0485\n2,-16,.0465\n2,-14,.0445\n2,-12,.0425\n2,-10,.0405\n2,-8,.0365\n2,-7,.0325\n2,-6,.026\n2,-5,.0176\n2,-4.5,.0137\n2,-4,.0098\n2,-3.7,.007\n2,-3.4,.0049\n2,-3.2,.0039\n2,0,.0005\n2,3.4,.004\n2,3.6,.0052\n2,4.1,.008\n2,5,.0125\n2,6,.016\n2,8,.0228\n2,10,.029\n2,12,.035\n2,14,.0415\n2,16,.048\n2,18,.0565\n2,20,.065\n3,5,.0045\n3,5.4,.0052\n3,6,.0063\n3,8,.0108\n3,10,.015\n3,12,.0195\n3,14,.024\n3,16,.0285\n3,18,.0335\n3,20,.038\n4,6,.0045\n4,6.4,.0052\n4,7,.0062\n4,8,.0082\n4,10,.012\n4,12,.0158\n4,14,.0198\n4,16,.0238\n4,18,.0275\n4,20,.031\n5,10.4,.0046\n5,10.8,.0052\n5,12,.0068\n5,14,.0092\n5,16,.0118\n5,18,.0146\n5,20,.0176\n6,15,.0046\n6,15.5,.0052\n6,16,.0057\n6,18,.0068\n6,20,.008", "format": {"type": "csv", "parse": {"s": "string", "x": "number", "y": "number"}}},
   "mark": {"type": "line", "strokeWidth": 1.5, "interpolate": "monotone", "clip": true},
   "encoding": {
    "x": {"field": "x", "type": "quantitative", "axis": {"orient": "top", "values": [-20,-18,-16,-14,-12,-10,-8,-6,-4,-2,0,2,4,6,8,10,12,14,16,18,20], "labels": false, "tickSize": {"condition": {"test": "datum.value % 10 === 0", "value": -7}, "value": -4}, "title": null}},
    "y": {"field": "y", "type": "quantitative", "axis": {"orient": "right", "values": [0.006,0.007,0.008,0.009,0.01,0.02,0.03,0.04,0.05,0.06,0.07,0.08,0.09,0.1,0.2], "labels": false, "tickSize": {"condition": {"test": "datum.value == 0.1 || datum.value == 0.01", "value": -7}, "value": -4}, "title": null}},
    "color": {"field": "s", "type": "nominal", "legend": null}}},
  {"data": {"values": [{"t": "(g)\u00a0\u00a0\u00a0A=5"}]}, "mark": {"type": "text", "align": "left", "baseline": "alphabetic", "dx": 9, "dy": 27, "fontSize": 20, "color": "black"},
   "encoding": {"x": {"datum": -20, "type": "quantitative", "axis": null}, "y": {"datum": 0.33, "type": "quantitative", "axis": null}, "text": {"field": "t"}}}
 ], "resolve": {"axis": {"x": "independent", "y": "independent"}}},
 {"width": 257, "height": 196, "layer": [
  {"data": {"values": "s,x,y\n1,-20,1.024\n1,-19,1.026\n1,-18,1.028\n1,-17,1.024\n1,-16,1.028\n1,-15,1.026\n1,-14,1.025\n1,-13,1.027\n1,-12,1.024\n1,-11,1.026\n1,-10,1.024\n1,-9,1.022\n1,-8,1.024\n1,-7,1.022\n1,-6,1.021\n1,-5,1.021\n1,-4,1.021\n1,-3,1.022\n1,-2,1.021\n1,-1,1.021\n1,0,1.021\n1,1,1.019\n1,2,1.017\n1,3,1.019\n1,4,1.015\n1,5,1.013\n1,6,1.013\n1,7,1.013\n1,8,1.013\n1,9,1.012\n1,10,1.012\n1,11,1.013\n1,12,1.013\n1,13,1.012\n1,14,1.008\n1,15,1.007\n1,16,1.006\n1,17,1.003\n1,18,1.003\n1,19,1.001\n1,20,.999\n2,-20,1.017\n2,-19,1.015\n2,-18,1.015\n2,-17,1.015\n2,-16,1.013\n2,-15,1.017\n2,-14,1.015\n2,-13,1.017\n2,-12,1.015\n2,-11,1.019\n2,-10,1.015\n2,-9,1.015\n2,-8,1.013\n2,-7,1.015\n2,-6,1.015\n2,-5,1.013\n2,-4,1.013\n2,-3,1.013\n2,-2,1.015\n2,-1,1.015\n2,0,1.011\n2,1,1.017\n2,2,1.011\n2,3,1.013\n2,4,1.009\n2,5,1.009\n2,6,1.01\n2,7,1.006\n2,8,1.006\n2,9,1.004\n2,10,1.003\n2,11,1.001\n2,12,1.003\n2,13,.999\n2,14,.997\n2,15,.995\n2,16,.995\n2,17,.993\n2,18,.992\n2,19,.988\n2,20,.985\n3,-20,.999\n3,-19,.995\n3,-18,.994\n3,-17,.994\n3,-16,.995\n3,-15,.995\n3,-14,.997\n3,-13,.999\n3,-12,.996\n3,-11,.997\n3,-10,.996\n3,-9,.997\n3,-8,.999\n3,-7,.998\n3,-6,.999\n3,-5,.999\n3,-4,1.001\n3,-3,1.003\n3,-2,1.003\n3,-1,1.004\n3,0,1.006\n3,1,1.003\n3,2,1.003\n3,3,1.001\n3,4,.999\n3,5,.997\n3,6,.995\n3,7,.994\n3,8,.992\n3,9,.99\n3,10,.988\n3,11,.986\n3,12,.984\n3,13,.982\n3,14,.98\n3,15,.978\n3,16,.977\n3,17,.977\n3,18,.974\n3,19,.97\n3,20,.966\n4,-20,.992\n4,-19,.989\n4,-18,.993\n4,-17,.995\n4,-16,.996\n4,-15,.997\n4,-14,.998\n4,-13,.996\n4,-12,.998\n4,-11,.997\n4,-10,.998\n4,-9,.999\n4,-8,.997\n4,-7,.998\n4,-6,.997\n4,-5,.998\n4,-4,.999\n4,-3,.999\n4,-2,1\n4,-1,1.001\n4,0,1.001\n4,1,1\n4,2,.999\n4,3,.997\n4,4,.994\n4,5,.994\n4,6,.99\n4,7,.987\n4,8,.985\n4,9,.983\n4,10,.98\n4,11,.978\n4,12,.976\n4,13,.972\n4,14,.969\n4,15,.967\n4,16,.965\n4,17,.962\n4,18,.96\n4,19,.958\n4,20,.957\n5,-20,.871\n5,-19,.88\n5,-18,.889\n5,-17,.893\n5,-16,.902\n5,-15,.907\n5,-14,.918\n5,-13,.914\n5,-12,.927\n5,-11,.925\n5,-10,.941\n5,-9,.943\n5,-8,.954\n5,-7,.956\n5,-6,.965\n5,-5,.966\n5,-4,.975\n5,-3,.981\n5,-2,.983\n5,-1,.985\n5,0,.986\n5,1,.986\n5,2,.99\n5,3,.985\n5,4,.981\n5,5,.979\n5,6,.975\n5,7,.97\n5,8,.963\n5,9,.961\n5,10,.956\n5,11,.952\n5,12,.95\n5,13,.945\n5,14,.941\n5,15,.938\n5,16,.938\n5,17,.934\n5,18,.925\n5,19,.923\n5,20,.92\n6,-20,.875\n6,-19,.876\n6,-18,.885\n6,-17,.887\n6,-16,.898\n6,-15,.905\n6,-14,.912\n6,-13,.914\n6,-12,.927\n6,-11,.923\n6,-10,.939\n6,-9,.941\n6,-8,.95\n6,-7,.952\n6,-6,.959\n6,-5,.963\n6,-4,.974\n6,-3,.972\n6,-2,.981\n6,-1,.981\n6,0,.974\n6,1,.981\n6,2,.974\n6,3,.981\n6,4,.97\n6,5,.963\n6,6,.965\n6,7,.956\n6,8,.948\n6,9,.947\n6,10,.945\n6,11,.943\n6,12,.941\n6,13,.93\n6,14,.927\n6,15,.923\n6,16,.916\n6,17,.92\n6,18,.9\n6,19,.903\n6,20,.889", "format": {"type": "csv", "parse": {"s": "string", "x": "number", "y": "number"}}},
   "mark": {"type": "circle", "size": 45, "opacity": 1, "clip": true},
   "encoding": {
    "x": {"field": "x", "type": "quantitative", "scale": {"domain": [-20, 20], "nice": false, "zero": false}, "axis": {"orient": "bottom", "values": [-20,-18,-16,-14,-12,-10,-8,-6,-4,-2,0,2,4,6,8,10,12,14,16,18,20], "labelExpr": "datum.value % 10 === 0 ? datum.label : ''", "labelPadding": 9, "tickSize": {"condition": {"test": "datum.value % 10 === 0", "value": -7}, "value": -4}, "title": "Strength, V₀", "titlePadding": 4}},
    "y": {"field": "y", "type": "quantitative", "scale": {"domain": [0.85, 1.062], "nice": false, "zero": false}, "axis": {"orient": "left", "values": [0.85,0.86,0.87,0.88,0.89,0.9,0.91,0.92,0.93,0.94,0.95,0.96,0.97,0.98,0.99,1,1.01,1.02,1.03,1.04,1.05], "format": ".2f", "labelExpr": "abs(datum.value*20-round(datum.value*20))<0.001 ? datum.label : ''", "tickSize": {"condition": {"test": "abs(datum.value*20-round(datum.value*20))<0.001", "value": -7}, "value": -4}, "title": "Occupations, nα"}},
    "color": {"field": "s", "type": "nominal", "scale": {"domain": ["1","2","3","4","5","6"], "range": ["#6baed6","#519ccc","#3787c0","#2171b5","#0d4a91","#08306b"]}, "legend": null}}},
  {"data": {"values": "s,x,y\n1,-20,.999\n1,-18,.999\n1,-16,.999\n1,-14,.999\n1,-12,.999\n1,-10,.999\n1,-8,.999\n1,-6,1\n1,-4,1\n1,-2,1\n1,0,1\n1,2,1\n1,4,.999\n1,6,.997\n1,8,.995\n1,10,.993\n1,12,.991\n1,14,.989\n1,16,.987\n1,18,.985\n1,20,.983\n2,-20,.999\n2,-18,.999\n2,-16,.999\n2,-14,.999\n2,-12,.999\n2,-10,.999\n2,-8,.999\n2,-6,1\n2,-4,1\n2,-2,1\n2,0,1\n2,2,1\n2,4,.999\n2,6,.997\n2,8,.994\n2,10,.991\n2,12,.988\n2,14,.986\n2,16,.984\n2,18,.981\n2,20,.979\n3,-20,.998\n3,-18,.998\n3,-16,.998\n3,-14,.998\n3,-12,.998\n3,-10,.998\n3,-8,.999\n3,-6,.999\n3,-4,1\n3,-2,1\n3,0,1\n3,2,1\n3,4,.998\n3,6,.996\n3,8,.992\n3,10,.988\n3,12,.984\n3,14,.98\n3,16,.977\n3,18,.975\n3,20,.972\n4,-20,.998\n4,-18,.998\n4,-16,.998\n4,-14,.998\n4,-12,.998\n4,-10,.998\n4,-8,.998\n4,-6,.999\n4,-4,.999\n4,-2,1\n4,0,1\n4,2,.999\n4,4,.998\n4,6,.995\n4,8,.99\n4,10,.985\n4,12,.98\n4,14,.976\n4,16,.973\n4,18,.969\n4,20,.966\n5,-20,.963\n5,-18,.965\n5,-16,.967\n5,-14,.968\n5,-12,.97\n5,-10,.972\n5,-8,.976\n5,-6,.984\n5,-4,.993\n5,-2,.998\n5,0,1\n5,2,.998\n5,4,.995\n5,6,.985\n5,8,.975\n5,10,.965\n5,12,.957\n5,14,.948\n5,16,.941\n5,18,.935\n5,20,.93\n6,-20,.963\n6,-18,.965\n6,-16,.967\n6,-14,.968\n6,-12,.97\n6,-10,.972\n6,-8,.976\n6,-6,.984\n6,-4,.993\n6,-2,.998\n6,0,1\n6,2,.998\n6,4,.994\n6,6,.983\n6,8,.972\n6,10,.962\n6,12,.952\n6,14,.943\n6,16,.934\n6,18,.925\n6,20,.917", "format": {"type": "csv", "parse": {"s": "string", "x": "number", "y": "number"}}},
   "mark": {"type": "line", "strokeWidth": 1.5, "interpolate": "monotone", "clip": true},
   "encoding": {
    "x": {"field": "x", "type": "quantitative", "axis": {"orient": "top", "values": [-20,-18,-16,-14,-12,-10,-8,-6,-4,-2,0,2,4,6,8,10,12,14,16,18,20], "labels": false, "tickSize": {"condition": {"test": "datum.value % 10 === 0", "value": -7}, "value": -4}, "title": null}},
    "y": {"field": "y", "type": "quantitative", "axis": {"orient": "right", "values": [0.85,0.86,0.87,0.88,0.89,0.9,0.91,0.92,0.93,0.94,0.95,0.96,0.97,0.98,0.99,1,1.01,1.02,1.03,1.04,1.05], "labels": false, "tickSize": {"condition": {"test": "abs(datum.value*20-round(datum.value*20))<0.001", "value": -7}, "value": -4}, "title": null}},
    "color": {"field": "s", "type": "nominal", "legend": null}}},
  {"data": {"values": [{"t": "(d)\u00a0\u00a0\u00a0A=6"}]}, "mark": {"type": "text", "align": "left", "baseline": "alphabetic", "dx": 9, "dy": 27, "fontSize": 20, "color": "black"},
   "encoding": {"x": {"datum": -20, "type": "quantitative", "axis": null}, "y": {"datum": 1.062, "type": "quantitative", "axis": null}, "text": {"field": "t"}}},
  {"data": {"values": [{"lab": "NQS, nα"}]}, "mark": {"type": "point", "filled": true, "opacity": 0, "size": 40},
   "encoding": {"fill": {"field": "lab", "type": "nominal", "scale": {"range": ["#6baed6"]}, "legend": {"legendX": 80.75, "legendY": 138, "symbolSize": 40, "symbolOpacity": 1, "symbolStrokeWidth": 0, "labelOffset": 18.75}}}},
  {"data": {"values": [{"lab": "Diag, nα"}]}, "mark": {"type": "line", "opacity": 0},
   "encoding": {"stroke": {"field": "lab", "type": "nominal", "scale": {"range": ["#6baed6"]}, "legend": {"legendX": 70.25, "legendY": 155, "symbolSize": 1024, "symbolStrokeWidth": 1.5, "symbolOpacity": 1, "labelOffset": 14.25}}}}
 ], "resolve": {"axis": {"x": "independent", "y": "independent"}}},
 {"width": 256, "height": 196, "layer": [
  {"data": {"values": "s,x,y\n1,-20,.1\n1,-19,.1\n1,-18,.097\n1,-17,.09\n1,-16,.086\n1,-15,.08\n1,-14,.072\n1,-13,.065\n1,-12,.058\n1,-11,.055\n1,-10,.053\n1,-9,.045\n1,-8,.035\n1,-7,.031\n1,-6,.027\n1,-5,.019\n1,-4,.0172\n1,-3,.0165\n1,-2,.0158\n1,-1,.015\n1,0,.014\n1,1,.0145\n1,2,.015\n1,3,.0162\n1,4,.0168\n1,5,.0198\n1,6,.0215\n1,7,.0225\n1,8,.029\n1,9,.032\n1,10,.044\n1,11,.047\n1,12,.053\n1,13,.057\n1,14,.061\n1,15,.068\n1,16,.073\n1,17,.075\n1,18,.081\n1,19,.087\n1,20,.093\n2,-20,.097\n2,-19,.095\n2,-18,.091\n2,-17,.086\n2,-16,.082\n2,-15,.076\n2,-14,.068\n2,-13,.062\n2,-12,.055\n2,-11,.052\n2,-10,.049\n2,-9,.039\n2,-8,.032\n2,-7,.028\n2,-6,.024\n2,-5,.0172\n2,-4,.0158\n2,-3,.015\n2,-2,.0143\n2,-1,.0135\n2,0,.0128\n2,1,.0132\n2,2,.0137\n2,3,.0148\n2,4,.0152\n2,5,.018\n2,6,.0195\n2,7,.021\n2,8,.026\n2,9,.029\n2,10,.038\n2,11,.042\n2,12,.047\n2,13,.05\n2,14,.055\n2,15,.059\n2,16,.063\n2,17,.066\n2,18,.069\n2,19,.072\n2,20,.076\n3,-20,.0185\n3,-19,.0165\n3,-18,.0168\n3,-17,.016\n3,-16,.0165\n3,-15,.0158\n3,-14,.0163\n3,-13,.0155\n3,-12,.0158\n3,-11,.0185\n3,-10,.0152\n3,-9,.0156\n3,-8,.015\n3,-7,.0153\n3,-6,.0147\n3,-5,.015\n3,-4,.0145\n3,-3,.0148\n3,-2,.0143\n3,-1,.0146\n3,0,.0142\n3,1,.0145\n3,2,.0147\n3,3,.015\n3,4,.0155\n3,5,.016\n3,6,.0168\n3,7,.0178\n3,8,.019\n3,9,.0205\n3,10,.0222\n3,11,.024\n3,12,.026\n3,13,.0282\n3,14,.0305\n3,15,.033\n3,16,.0355\n3,17,.038\n3,18,.041\n3,19,.044\n3,20,.047\n4,-20,.0145\n4,-19,.0138\n4,-18,.0142\n4,-17,.0135\n4,-16,.0139\n4,-15,.0132\n4,-14,.0136\n4,-13,.0129\n4,-12,.0133\n4,-11,.0127\n4,-10,.013\n4,-9,.0124\n4,-8,.0128\n4,-7,.0122\n4,-6,.0125\n4,-5,.012\n4,-4,.0123\n4,-3,.0118\n4,-2,.0121\n4,-1,.0116\n4,0,.0119\n4,1,.0115\n4,2,.0118\n4,3,.0117\n4,4,.012\n4,5,.0123\n4,6,.0128\n4,7,.0135\n4,8,.0143\n4,9,.0152\n4,10,.0163\n4,11,.0175\n4,12,.0188\n4,13,.0202\n4,14,.0218\n4,15,.0235\n4,16,.0252\n4,17,.027\n4,18,.029\n4,19,.031\n4,20,.033\n5,-20,.0122\n5,-19,.0115\n5,-18,.0118\n5,-17,.0112\n5,-16,.0115\n5,-15,.0109\n5,-14,.0112\n5,-13,.0106\n5,-12,.0109\n5,-11,.0104\n5,-10,.0107\n5,-9,.0102\n5,-8,.0105\n5,-7,.01\n5,-6,.0103\n5,-5,.0099\n5,-4,.0101\n5,-3,.0097\n5,-2,.01\n5,-1,.0096\n5,0,.0098\n5,1,.0095\n5,2,.0097\n5,3,.0096\n5,4,.0098\n5,5,.0097\n5,6,.01\n5,7,.0102\n5,8,.0106\n5,9,.011\n5,10,.0116\n5,11,.0122\n5,12,.013\n5,13,.0138\n5,14,.0147\n5,15,.0157\n5,16,.0168\n5,17,.018\n5,18,.0192\n5,19,.0205\n5,20,.0218\n6,-20,.0102\n6,-19,.0095\n6,-18,.0098\n6,-17,.0092\n6,-16,.0095\n6,-15,.009\n6,-14,.0093\n6,-13,.0088\n6,-12,.0091\n6,-11,.0086\n6,-10,.0089\n6,-9,.0085\n6,-8,.0087\n6,-7,.0083\n6,-6,.0086\n6,-5,.0082\n6,-4,.0084\n6,-3,.0081\n6,-2,.0083\n6,-1,.008\n6,0,.0082\n6,1,.0079\n6,2,.0081\n6,3,.008\n6,4,.0082\n6,5,.0081\n6,6,.0083\n6,7,.0082\n6,8,.0085\n6,9,.0087\n6,10,.009\n6,11,.0094\n6,12,.0098\n6,13,.0104\n6,14,.011\n6,15,.0117\n6,16,.0125\n6,17,.0133\n6,18,.0142\n6,19,.015\n6,20,.016\n7,-20,.0085\n7,-19,.0079\n7,-18,.0082\n7,-17,.0076\n7,-16,.0079\n7,-15,.0074\n7,-14,.0077\n7,-13,.0072\n7,-12,.0075\n7,-11,.0071\n7,-10,.0073\n7,-9,.0069\n7,-8,.0071\n7,-7,.0068\n7,-6,.0062\n7,-5,.0067\n7,-4,.0069\n7,-3,.0065\n7,-2,.0056\n7,-1,.0066\n7,0,.0064\n7,1,.0066\n7,2,.0063\n7,3,.0065\n7,4,.0064\n7,5,.0066\n7,6,.0065\n7,7,.0067\n7,8,.0066\n7,9,.0068\n7,10,.0067\n7,11,.007\n7,12,.0069\n7,13,.0072\n7,14,.0071\n7,15,.0074\n7,16,.0073\n7,17,.0076\n7,18,.0075\n7,19,.0078\n7,20,.008", "format": {"type": "csv", "parse": {"s": "string", "x": "number", "y": "number"}}},
   "mark": {"type": "circle", "size": 45, "opacity": 1, "clip": true},
   "encoding": {
    "x": {"field": "x", "type": "quantitative", "scale": {"domain": [-20, 20], "nice": false, "zero": false}, "axis": {"orient": "bottom", "values": [-20,-18,-16,-14,-12,-10,-8,-6,-4,-2,0,2,4,6,8,10,12,14,16,18,20], "labelExpr": "datum.value % 10 === 0 ? datum.label : ''", "labelPadding": 9, "tickSize": {"condition": {"test": "datum.value % 10 === 0", "value": -7}, "value": -4}, "title": "Strength, V₀", "titlePadding": 4}},
    "y": {"field": "y", "type": "quantitative", "scale": {"type": "log", "domain": [0.0051, 0.33], "nice": false}, "axis": {"orient": "left", "values": [0.006,0.007,0.008,0.009,0.01,0.02,0.03,0.04,0.05,0.06,0.07,0.08,0.09,0.1,0.2], "labelExpr": "datum.value == 0.1 ? '10⁻¹' : datum.value == 0.01 ? '10⁻²' : ''", "tickSize": {"condition": {"test": "datum.value == 0.1 || datum.value == 0.01", "value": -7}, "value": -4}, "title": null}},
    "color": {"field": "s", "type": "nominal", "scale": {"domain": ["1","2","3","4","5","6","7"], "range": ["#67000d","#a50f15","#cb181d","#ef3b2c","#fb6a4a","#fc9272","#fcbba1"]}, "legend": null}}},
  {"data": {"values": "s,x,y\n1,-20,.0398\n1,-18,.0388\n1,-16,.0378\n1,-14,.0365\n1,-12,.035\n1,-10,.0334\n1,-8,.031\n1,-7,.028\n1,-6,.0234\n1,-5,.017\n1,-4.5,.013\n1,-4,.0097\n1,-3.7,.0072\n1,-3.5,.0058\n1,-3.3,.0047\n1,0,.0005\n1,3.4,.0047\n1,3.6,.0058\n1,4,.0075\n1,5,.0106\n1,6,.0138\n1,8,.0196\n1,10,.026\n1,12,.0334\n1,14,.041\n1,16,.049\n1,18,.058\n1,20,.07\n2,-20,.039\n2,-18,.038\n2,-16,.037\n2,-14,.0358\n2,-12,.0343\n2,-10,.0328\n2,-8,.0305\n2,-7,.0276\n2,-6,.023\n2,-5,.0166\n2,-4.5,.0127\n2,-4,.0094\n2,-3.7,.007\n2,-3.5,.0056\n2,-3.3,.0046\n2,0,.0005\n2,3.5,.0047\n2,3.7,.0058\n2,4.1,.0075\n2,5,.0102\n2,6,.0132\n2,8,.0188\n2,10,.025\n2,12,.032\n2,14,.039\n2,16,.047\n2,18,.056\n2,20,.068\n3,5.6,.0046\n3,5.9,.0052\n3,7,.0078\n3,8,.0102\n3,10,.0152\n3,12,.0205\n3,14,.0258\n3,16,.031\n3,18,.036\n3,20,.041\n4,6.4,.0046\n4,6.7,.0052\n4,8,.0078\n4,10,.0115\n4,12,.0155\n4,14,.0196\n4,16,.0237\n4,18,.028\n4,20,.032\n5,9.5,.0046\n5,9.8,.0052\n5,11,.0072\n5,12,.0088\n5,14,.012\n5,16,.0152\n5,18,.018\n5,20,.021\n6,11.3,.0046\n6,11.6,.0052\n6,13,.0069\n6,14,.0082\n6,16,.0108\n6,18,.0134\n6,20,.0159\n7,17.8,.0046\n7,18.2,.0051\n7,19,.0055\n7,20,.006", "format": {"type": "csv", "parse": {"s": "string", "x": "number", "y": "number"}}},
   "mark": {"type": "line", "strokeWidth": 1.5, "interpolate": "monotone", "clip": true},
   "encoding": {
    "x": {"field": "x", "type": "quantitative", "axis": {"orient": "top", "values": [-20,-18,-16,-14,-12,-10,-8,-6,-4,-2,0,2,4,6,8,10,12,14,16,18,20], "labels": false, "tickSize": {"condition": {"test": "datum.value % 10 === 0", "value": -7}, "value": -4}, "title": null}},
    "y": {"field": "y", "type": "quantitative", "axis": {"orient": "right", "values": [0.006,0.007,0.008,0.009,0.01,0.02,0.03,0.04,0.05,0.06,0.07,0.08,0.09,0.1,0.2], "labels": false, "tickSize": {"condition": {"test": "datum.value == 0.1 || datum.value == 0.01", "value": -7}, "value": -4}, "title": null}},
    "color": {"field": "s", "type": "nominal", "legend": null}}},
  {"data": {"values": [{"t": "(h)\u00a0\u00a0\u00a0A=6"}]}, "mark": {"type": "text", "align": "left", "baseline": "alphabetic", "dx": 9, "dy": 27, "fontSize": 20, "color": "black"},
   "encoding": {"x": {"datum": -20, "type": "quantitative", "axis": null}, "y": {"datum": 0.33, "type": "quantitative", "axis": null}, "text": {"field": "t"}}}
 ], "resolve": {"axis": {"x": "independent", "y": "independent"}}}
]
}
